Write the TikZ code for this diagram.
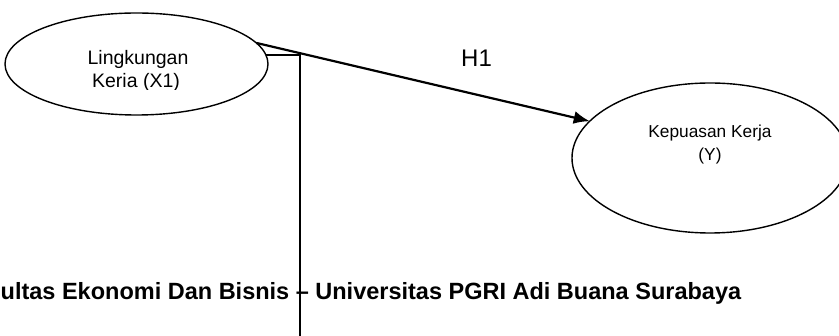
\documentclass[tikz,border=0pt]{standalone}
\usepackage{fontspec}
\setmainfont{Liberation Sans}
\usetikzlibrary{shapes.geometric,arrows.meta}
\tikzset{
  latent/.style={draw, ellipse, line width=1.4pt, inner sep=0pt, outer sep=0pt},
  lbl/.style={inner sep=0pt, anchor=base},
  path arrow/.style={line width=2.2pt, -{Latex[length=16pt,width=13pt]}},
  plain line/.style={line width=1.4pt}
}
\begin{document}
\begin{tikzpicture}[x=1pt,y=-1pt]
\useasboundingbox (0,0) rectangle (839,336);
\clip (0,0) rectangle (839,336);
\node[latent, minimum width=263pt, minimum height=102pt] (e1) at (136.5,64) {};
\node[latent, minimum width=276pt, minimum height=150pt] (e2) at (710,158) {};
\node[lbl, font=\fontsize{19.5}{22}\selectfont] (t1a) at (138,65) {Lingkungan};
\begin{scope}
\clip (0,0) rectangle (839,89.2);
\node[lbl, font=\fontsize{19.5}{22}\selectfont] (t1b) at (136,88) {Keria (X1)};
\end{scope}
\node[lbl, font=\fontsize{17.3}{20}\selectfont] (t2a) at (710,138) {Kepuasan Kerja};
\node[lbl, font=\fontsize{17.3}{20}\selectfont] (t2b) at (710,161) {(Y)};
\node[inner sep=0pt, anchor=base west, font=\fontsize{24}{28}\selectfont] (h1) at (461,67) {H1};
\draw[path arrow] (e1.10.7) -- (e2.163.5);
\coordinate (vb) at (300,340);
\draw[plain line] (e1.4.9) -| (vb);
\node[inner sep=0pt, anchor=base west, font=\bfseries\fontsize{23.5}{28}\selectfont] (foot) at (0.5,300) {ultas Ekonomi Dan Bisnis – Universitas PGRI Adi Buana Surabaya};
\end{tikzpicture}
\end{document}
